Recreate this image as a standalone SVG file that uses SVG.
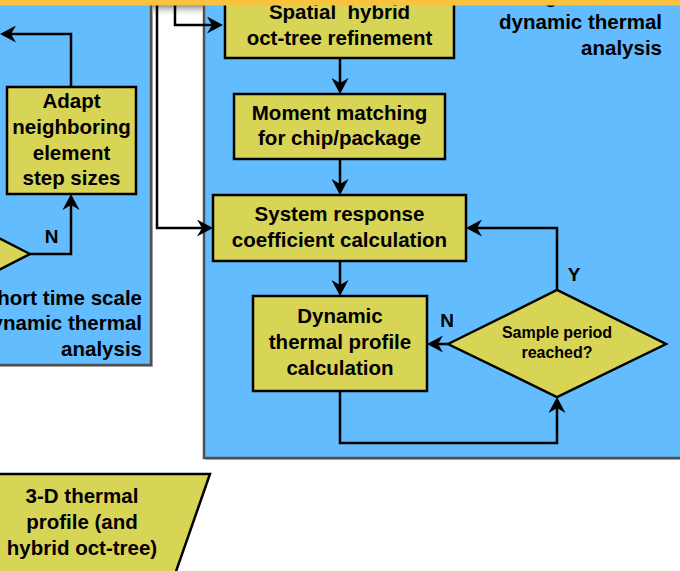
<svg xmlns="http://www.w3.org/2000/svg" width="680" height="571" viewBox="0 0 680 571">
<defs>
<style>
.panel{fill:#63BCFE;stroke:#505050;stroke-width:2.5}
.shadow{fill:#B8B8B8}
.box{fill:#D8D456;stroke:#000;stroke-width:2.5}
.t{font-family:"Liberation Sans",Arial,sans-serif;font-weight:bold;font-size:20.5px;fill:#000;text-anchor:middle}
.ts{font-family:"Liberation Sans",Arial,sans-serif;font-weight:bold;font-size:16px;fill:#000;text-anchor:middle}
.tr{font-family:"Liberation Sans",Arial,sans-serif;font-weight:bold;font-size:20.5px;fill:#000;text-anchor:end}
.lbl{font-family:"Liberation Sans",Arial,sans-serif;font-weight:bold;font-size:19px;fill:#000;text-anchor:middle}
.c{fill:none;stroke:#000;stroke-width:2.5}
</style>
<marker id="ah" viewBox="0 0 16 17" refX="11" refY="8.5" markerWidth="16" markerHeight="17" orient="auto" markerUnits="userSpaceOnUse">
<path d="M0,0 L16,8.5 L0,17 L5,8.5 Z" fill="#000"/>
</marker>
<linearGradient id="topshade" x1="0" y1="0" x2="0" y2="1">
<stop offset="0" stop-color="#8a8a8a"/>
<stop offset="1" stop-color="#ffffff" stop-opacity="0"/>
</linearGradient>
</defs>
<rect width="680" height="571" fill="#fff"/>

<g id="panel-short">
<rect class="shadow" x="-3" y="-3" width="156" height="370"/>
<rect class="panel" x="-5" y="-5" width="156" height="370"/>
<text class="tr" x="142" y="305">Short time scale</text>
<text class="tr" x="142" y="330">dynamic thermal</text>
<text class="tr" x="142" y="356">analysis</text>
</g>

<g id="panel-long">
<rect class="shadow" x="206" y="-3" width="490" height="463"/>
<rect class="panel" x="204" y="-5" width="490" height="463"/>
<text class="tr" x="662" y="3">Long time scale</text>
<text class="tr" x="662" y="29">dynamic thermal</text>
<text class="tr" x="662" y="55">analysis</text>
</g>

<rect x="152" y="5" width="51" height="12" fill="url(#topshade)"/>

<g id="connectors">
<path class="c" d="M71,87 V34 H5" marker-end="url(#ah)"/>
<path class="c" d="M30,254 H71 V199" marker-end="url(#ah)"/>
<path class="c" d="M175,-5 V25 H218" marker-end="url(#ah)"/>
<path class="c" d="M157,-5 V228 H208" marker-end="url(#ah)"/>
<path class="c" d="M340,58 V89" marker-end="url(#ah)"/>
<path class="c" d="M340,159 V190" marker-end="url(#ah)"/>
<path class="c" d="M340,261 V291" marker-end="url(#ah)"/>
<path class="c" d="M557,290 V228 H471" marker-end="url(#ah)"/>
<path class="c" d="M448,344 H432" marker-end="url(#ah)"/>
<path class="c" d="M340,391 V443 H557 V402" marker-end="url(#ah)"/>
</g>

<g id="decision-short">
<polygon class="box" points="30,254 -40,218 -110,254 -40,290"/>
</g>
<text class="lbl" x="51.5" y="243">N</text>

<g id="adapt">
<rect class="box" x="7" y="87" width="129" height="107"/>
<text class="t" x="71.5" y="108">Adapt</text>
<text class="t" x="71.5" y="134">neighboring</text>
<text class="t" x="71.5" y="159.5">element</text>
<text class="t" x="71.5" y="185">step sizes</text>
</g>

<g id="spatial">
<rect class="box" x="225" y="-10" width="229" height="68"/>
<text class="t" x="339.5" y="18.5" xml:space="preserve">Spatial  hybrid</text>
<text class="t" x="339.5" y="44.5">oct-tree refinement</text>
</g>

<g id="moment">
<rect class="box" x="234" y="94" width="211" height="65"/>
<text class="t" x="339.5" y="119.5">Moment matching</text>
<text class="t" x="339.5" y="145">for chip/package</text>
</g>

<g id="system">
<rect class="box" x="213" y="195" width="253" height="66"/>
<text class="t" x="339.5" y="221">System response</text>
<text class="t" x="339.5" y="247">coefficient calculation</text>
</g>

<g id="dynamic">
<rect class="box" x="253" y="296" width="174" height="95"/>
<text class="t" x="340" y="323">Dynamic</text>
<text class="t" x="340" y="349">thermal profile</text>
<text class="t" x="340" y="375">calculation</text>
</g>

<g id="sample">
<polygon class="box" points="448,344 557,290 666,344 557,397"/>
<text class="ts" x="557" y="338">Sample period</text>
<text class="ts" x="557" y="358">reached?</text>
</g>
<text class="lbl" x="574" y="281">Y</text>
<text class="lbl" x="447" y="327">N</text>

<g id="output">
<polygon class="box" points="-10,474 210,474 173,580 -10,580"/>
<text class="t" x="82" y="503">3-D thermal</text>
<text class="t" x="82" y="529">profile (and</text>
<text class="t" x="82" y="555">hybrid oct-tree)</text>
</g>

<rect x="0" y="0" width="680" height="5.5" fill="#F9C33F"/>
</svg>
